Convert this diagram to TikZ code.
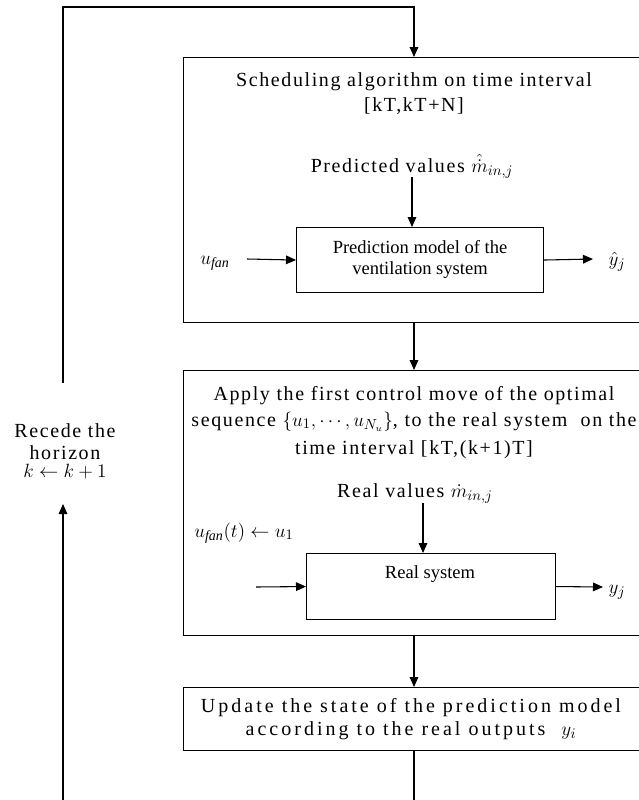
\documentclass[tikz,border=0pt]{standalone}
\usepackage{fontspec}
\setmainfont{Liberation Serif}
\usetikzlibrary{arrows.meta,calc}
\newcommand\ofont{\fontsize{15}{18}\selectfont\addfontfeatures{LetterSpace=8}}
\newcommand\innerfont{\fontsize{13.9}{16}\selectfont}
\begin{document}
\begin{tikzpicture}[x=0.75pt,y=-0.75pt,line width=0.8pt,
  >={Triangle[length=7.5pt,width=6.5pt]},
  box/.style={draw,anchor=north west,inner sep=0pt},
  txt/.style={anchor=base,inner sep=0pt,font=\ofont},
  small/.style={anchor=base,inner sep=0pt,font=\innerfont}]
\clip (0,0) rectangle (639,800);
\useasboundingbox (0,0) rectangle (639,800);
\coordinate (cx) at (414,0);
% box 1
\node[box,minimum width={480*0.75pt},minimum height={265*0.75pt}] (b1) at (183,57) {};
\node[txt] (t1a) at (414,86) {Scheduling algorithm on time interval};
\node[txt] (t1b) at (414,111) {[kT,kT+N]};
\node[txt] (pv) at (412,172) {Predicted values $\hat{\dot{m}}_{in,j}$};
\node[box,minimum width={247*0.75pt},minimum height={65*0.75pt}] (p1) at (296,227) {};
\node[small] (p1a) at (420,253) {Prediction model of the};
\node[small] (p1b) at (420,274) {ventilation system};
\node[txt] (ufan) at (215,264) {$u_{\mathit{fan}}$};
\node[txt] (yhat) at (617,265) {$\hat{y}_j$};
\coordinate (c1) at (412,0);
\draw[->] (412,177) coordinate (pvin) -- (p1.north -| c1);
\draw[->] (247,259) coordinate (uin) -- (p1.west);
\draw[->] (p1.east) -- (593,259) coordinate (yout);
% box 2
\node[box,minimum width={480*0.75pt},minimum height={265*0.75pt}] (b2) at (183,370) {};
\node[txt] (t2a) at (414,400) {Apply the first control move of the optimal};
\node[txt] (t2b) at (414,426) {sequence $\{u_1,\cdots,u_{N_u}\}$, to the real system\ \ on the};
\node[txt] (t2c) at (414,454) {time interval [kT,(k+1)T]};
\node[txt] (rv) at (415,497) {Real values $\dot{m}_{in,j}$};
\node[txt] (uset) at (244,537) {$u_{\mathit{fan}}(t)\leftarrow u_1$};
\node[box,minimum width={249*0.75pt},minimum height={66*0.75pt}] (r) at (306,553) {};
\node[small] (rt) at (430,578) {Real system};
\node[txt] (yj) at (617,593) {$y_j$};
\coordinate (c2) at (423,0);
\draw[->] (423,503) coordinate (rvin) -- (r.north -| c2);
\draw[->] (256,587) coordinate (rin) -- (r.west);
\draw[->] (r.east) -- (603,587) coordinate (rout);
% box 3
\node[box,minimum width={480*0.75pt},minimum height={63*0.75pt}] (b3) at (183,687) {};
\node[txt,font={\fontsize{15}{18}\selectfont\addfontfeatures{LetterSpace=15}}] (t3a) at (411,712) {Update the state of the prediction model};
\node[txt,font={\fontsize{15}{18}\selectfont\addfontfeatures{LetterSpace=15}}] (t3b) at (411,735) {according to the real outputs\ \ $y_i$};
% connectors between boxes
\draw[->] (b1.south -| cx) -- (b2.north -| cx);
\draw[->] (b2.south -| cx) -- (b3.north -| cx);
\draw (b3.south -| cx) -- (414,810) coordinate (bot);
% feedback
\node[txt] (rec1) at (65,437) {Recede the};
\node[txt] (rec2) at (65,459) {horizon};
\node[txt] (rec3) at (65,477) {$k\leftarrow k+1$};
\draw[->] (63,810) coordinate (lbot) -- (63,504);
\draw[->] (63,383) -- (63,7) -- (414,7) -- (b1.north -| cx);
\end{tikzpicture}
\end{document}
